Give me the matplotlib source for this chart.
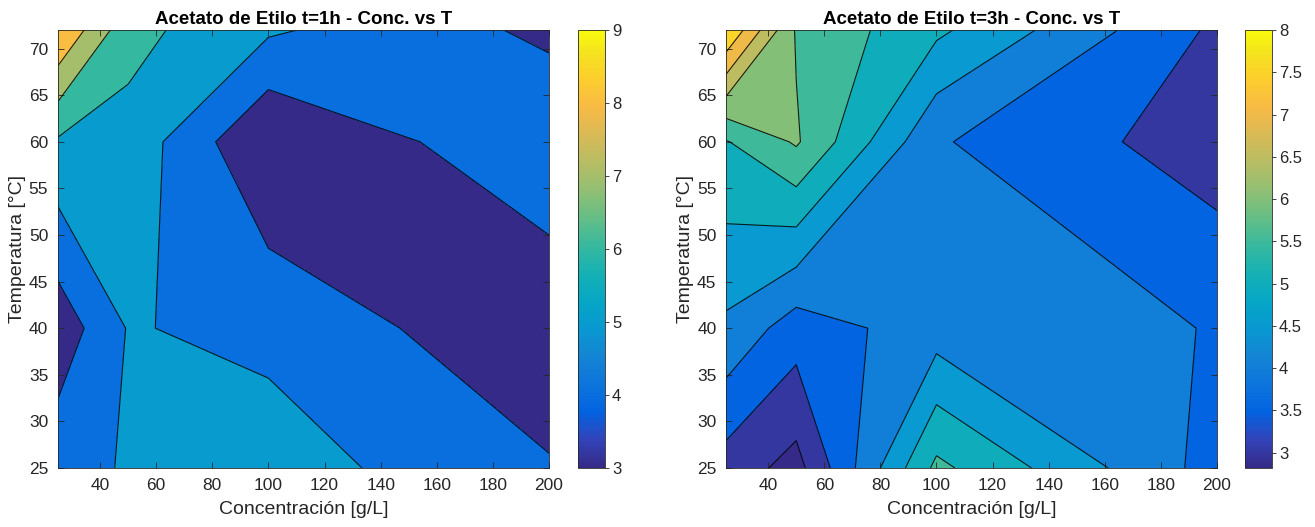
import matplotlib
matplotlib.use('Agg')
import matplotlib.pyplot as plt
import numpy as np
from matplotlib.colors import LinearSegmentedColormap, Normalize
from matplotlib.cm import ScalarMappable

plt.rcParams['font.family'] = ['Liberation Sans', 'DejaVu Sans']

# grid of the experiments
conc = [25, 50, 100, 200]      # g/L
temp = [25, 40, 60, 72]        # degC

# rows = temp, cols = conc
z_1h = [[4.62, 5.09, 5.45, 4.10],
        [3.37, 5.06, 4.75, 3.15],
        [5.87, 5.66, 3.00, 4.85],
        [9.00, 6.32, 5.14, 3.78]]

z_3h = [[3.28, 2.82, 5.62, 3.79],
        [4.40, 3.74, 4.25, 3.98],
        [5.47, 6.06, 4.05, 3.22],
        [8.00, 5.95, 5.10, 3.40]]

levels_1h = [3, 4, 5, 6, 7, 8, 9]
levels_3h = [2.5, 3, 3.5, 4, 4.5, 5, 5.5, 6, 6.5, 7, 7.5, 8]
clim_1h = (3, 9)
clim_3h = (2.82, 8)
cticks_1h = [3, 4, 5, 6, 7, 8, 9]
cticks_3h = [3, 3.5, 4, 4.5, 5, 5.5, 6, 6.5, 7, 7.5, 8]

# parula approximation (subset of the matlab table)
parula_pts = [(0.2081, 0.1663, 0.5292), (0.1959, 0.2645, 0.7279), (0.0117, 0.3875, 0.8820),
              (0.0498, 0.4586, 0.8641), (0.0793, 0.5200, 0.8312), (0.0343, 0.5966, 0.8199),
              (0.0228, 0.6535, 0.7768), (0.0843, 0.6928, 0.7062), (0.2178, 0.7250, 0.6193),
              (0.3953, 0.7459, 0.5244), (0.5709, 0.7485, 0.4494), (0.7184, 0.7411, 0.3905),
              (0.8507, 0.7299, 0.3360), (0.9739, 0.7314, 0.2666), (0.9880, 0.8066, 0.1794),
              (0.9589, 0.8949, 0.1132), (0.9763, 0.9831, 0.0538)]
pos = [i * 4 / 63 for i in range(16)] + [1.0]
parula = LinearSegmentedColormap.from_list('parula', list(zip(pos, parula_pts)))

fig = plt.figure(figsize=(13.15, 5.27), dpi=100)
txt = (0.15, 0.15, 0.15)

panels = [
    (z_1h, levels_1h, clim_1h, cticks_1h, 'Acetato de Etilo t=1h - Conc. vs T',
     [0.0441, 0.1120, 0.3734, 0.8311], [0.4399, 0.1120, 0.0202, 0.8311]),
    (z_3h, levels_3h, clim_3h, cticks_3h, 'Acetato de Etilo t=3h - Conc. vs T',
     [0.5522, 0.1120, 0.3732, 0.8311], [0.9468, 0.1120, 0.0205, 0.8311]),
]

for Z, lev, clim, cticks, title, apos, cpos in panels:
    ax = fig.add_axes(apos)
    cax = fig.add_axes(cpos)
    X, Y = np.meshgrid(conc, temp)
    Z = np.array(Z)
    norm = Normalize(*clim, clip=True)
    # matlab fills each band with the colour of its lower level
    cols = [parula(norm(l)) for l in lev[:-1]]
    ax.contourf(X, Y, Z, levels=lev, colors=cols)
    ax.contour(X, Y, Z, levels=lev[1:-1], colors='k', linewidths=0.8, alpha=0.85)
    ax.set_xlim(25, 200)
    ax.set_ylim(25, 72)
    ax.set_xticks(range(40, 201, 20))
    ax.set_yticks(range(25, 71, 5))
    ax.tick_params(direction='in', top=True, right=True, labelsize=12.5,
                   colors=txt, length=4, width=0.6, pad=7)
    for s in ax.spines.values():
        s.set_color(txt)
        s.set_linewidth(0.6)
    ax.set_xlabel('Concentración [g/L]', fontsize=14, color=txt, labelpad=6)
    ax.set_ylabel('Temperatura [°C]', fontsize=14, color=txt, labelpad=2)
    ax.set_title(title, fontsize=13.5, fontweight='bold', pad=4)

    sm = ScalarMappable(norm=Normalize(*clim), cmap=parula)
    cb = fig.colorbar(sm, cax=cax, ticks=cticks)
    cb.ax.set_yticklabels(['{:g}'.format(t) for t in cticks])
    cb.ax.tick_params(labelsize=12, colors=txt, length=3, width=0.6, pad=2)
    cb.outline.set_edgecolor(txt)
    cb.outline.set_linewidth(0.6)

fig.savefig('out.png', dpi=100)
